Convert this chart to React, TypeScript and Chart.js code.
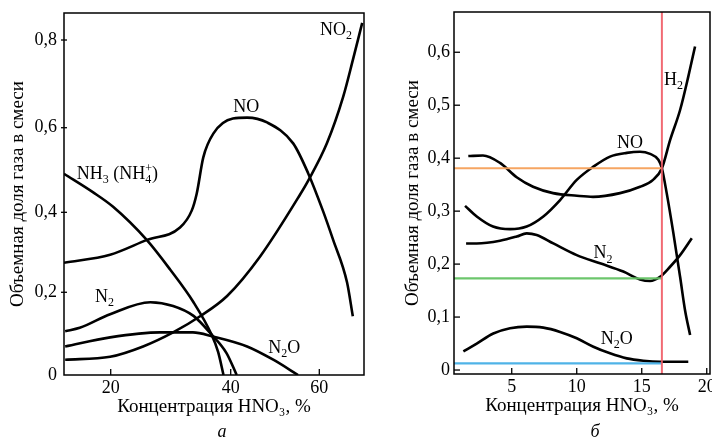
import React, { useEffect, useRef } from 'react';
import { Chart, LinearScale, registerables } from 'chart.js';

Chart.register(...registerables);

// ---------------- Panel "а" ----------------
const aXTicks = [20, 40, 60];
const aYTicks = [0, 0.2, 0.4, 0.6, 0.8];
// the printed x and y axes of panel "а" are not evenly spaced: knots read from tick marks
const aXKnotVals = [12, 20, 40, 60, 70];
const aXKnotFracs = [0, 0.1557, 0.5557, 0.851, 1];
const aYKnotVals = [0, 0.2, 0.4, 0.6, 0.8, 0.8616];
const aYKnotFracs = [0, 0.2285, 0.4494, 0.6831, 0.9254, 1];

const aNH3X = [12.0, 17.0, 20.4, 26.0, 29.9, 33.8, 36.8, 37.9, 38.8];
const aNH3Y = [0.491, 0.447, 0.413, 0.331, 0.257, 0.176, 0.098, 0.056, 0];
const aN2X = [12.2, 14.7, 19.9, 26.6, 30.4, 33.8, 36.8, 39.3, 41.35];
const aN2Y = [0.106, 0.114, 0.147, 0.176, 0.167, 0.143, 0.098, 0.053, 0];
const aN2OX = [12.2, 19.9, 28.2, 33.7, 37.05, 43.7, 49.6, 55.2];
const aN2OY = [0.069, 0.091, 0.103, 0.103, 0.093, 0.069, 0.037, 0];
const aNO2X = [12.2, 19.9, 25.4, 30.4, 34.9, 39.4, 46.6, 55.6, 57.5, 61.7, 65.3, 67.5, 69.6];
const aNO2Y = [0.037, 0.044, 0.069, 0.103, 0.142, 0.191, 0.289, 0.441, 0.475, 0.563, 0.669, 0.754, 0.839];
const aNOX = [12.0, 19.9, 26.05, 31.55, 33.5, 34.33, 35.43, 37.1, 40.5, 43.7, 48.2, 54.1, 57.5, 60.8, 63.1, 66.2, 67.5];
const aNOY = [0.274, 0.294, 0.331, 0.362, 0.404, 0.444, 0.53, 0.586, 0.621, 0.623, 0.612, 0.563, 0.492, 0.404, 0.331, 0.225, 0.142];

// curve names (with _sub and ^sup marks), left x, centre y (data units)
const aLabelText = ['NO_2', 'NO', 'NH_3 (NH_4^+)', 'N_2', 'N_2O'];
const aLabelX = [60.16, 40.59, 14.17, 17.3, 48.49];
const aLabelY = [0.823, 0.647, 0.491, 0.188, 0.065];

// ---------------- Panel "б" ----------------
const bXTicks = [5, 10, 15, 20];
const bYTicks = [0, 0.1, 0.2, 0.3, 0.4, 0.5, 0.6];

const bH2X = [1.66, 2.79, 4.1, 5.38, 6.64, 8.18, 10.02, 11.25, 13.33, 14.87, 15.87, 16.55, 17.18, 17.95, 18.58, 19.1];
const bH2Y = [0.404, 0.405, 0.391, 0.364, 0.346, 0.334, 0.329, 0.327, 0.334, 0.346, 0.359, 0.381, 0.434, 0.491, 0.554, 0.611];
const bNOX = [1.41, 2.31, 3.56, 4.87, 6.15, 7.43, 8.72, 10.0, 11.28, 12.56, 13.85, 14.87, 15.64, 16.28, 16.55, 16.92, 17.43, 17.95, 18.33, 18.72];
const bNOY = [0.31, 0.29, 0.271, 0.266, 0.271, 0.29, 0.321, 0.359, 0.384, 0.403, 0.41, 0.412, 0.408, 0.397, 0.381, 0.334, 0.259, 0.176, 0.113, 0.066];
const bN2X = [1.49, 2.31, 4.1, 5.38, 6.15, 6.92, 8.2, 10.0, 11.79, 13.58, 14.87, 15.64, 16.41, 17.18, 17.95, 18.85];
const bN2Y = [0.239, 0.239, 0.244, 0.252, 0.258, 0.255, 0.239, 0.217, 0.2015, 0.186, 0.171, 0.168, 0.176, 0.195, 0.217, 0.249];
const bN2OX = [1.28, 2.31, 3.58, 4.87, 6.15, 7.43, 8.72, 10.0, 11.28, 12.56, 13.85, 15.12, 16.41, 18.58];
const bN2OY = [0.035, 0.05, 0.069, 0.079, 0.082, 0.08, 0.072, 0.06, 0.044, 0.0315, 0.022, 0.0176, 0.0157, 0.0157];

const bRefX = 16.55; // red vertical marker
const bRefLevels = [0.381, 0.173, 0.0127]; // orange, green, blue horizontal markers
const bRefColors = ['rgba(245,160,90,0.95)', 'rgba(100,195,100,0.95)', 'rgba(70,175,230,0.95)'];

const bLabelText = ['H_2', 'NO', 'N_2', 'N_2O'];
const bLabelX = [16.72, 13.1, 11.28, 11.85];
const bLabelY = [0.548, 0.429, 0.22, 0.058];

const FONT = "'Liberation Serif', 'Times New Roman', serif";

function makePiecewise(id: string, vals: number[], fracs: number[]) {
  class PW extends LinearScale {
    static id = id;
    static defaults = LinearScale.defaults;
    getPixelForValue(value: number) {
      if (value === null || value === undefined || isNaN(value)) return NaN;
      let i = 0;
      while (i < vals.length - 2 && value > vals[i + 1]) i++;
      const t = (value - vals[i]) / (vals[i + 1] - vals[i]);
      const dec = fracs[i] + t * (fracs[i + 1] - fracs[i]);
      return (this as any).getPixelForDecimal(dec);
    }
    getValueForPixel(pixel: number) {
      const dec = (this as any).getDecimalForPixel(pixel);
      let i = 0;
      while (i < fracs.length - 2 && dec > fracs[i + 1]) i++;
      const t = (dec - fracs[i]) / (fracs[i + 1] - fracs[i]);
      return vals[i] + t * (vals[i + 1] - vals[i]);
    }
  }
  return PW;
}

Chart.register(makePiecewise('pwAX', aXKnotVals, aXKnotFracs) as any, makePiecewise('pwAY', aYKnotVals, aYKnotFracs) as any);

const zip = (xs: number[], ys: number[]) => xs.map((x, i) => ({ x, y: ys[i] }));

function drawRich(ctx: CanvasRenderingContext2D, x: number, y: number, spec: string) {
  ctx.textBaseline = 'middle';
  ctx.textAlign = 'left';
  let cx = x;
  let i = 0;
  while (i < spec.length) {
    const ch = spec[i];
    if (ch === '_') {
      const sub = spec[i + 1];
      let sup = '';
      i += 2;
      if (spec[i] === '^') { sup = spec[i + 1]; i += 2; }
      ctx.font = `12px ${FONT}`;
      ctx.fillText(sub, cx, y + 6);
      let w = ctx.measureText(sub).width;
      if (sup) {
        ctx.fillText(sup, cx, y - 5);
        w = Math.max(w, ctx.measureText(sup).width);
      }
      cx += w;
    } else {
      let j = i;
      let s = '';
      while (j < spec.length && spec[j] !== '_') { s += spec[j]; j++; }
      ctx.font = `18px ${FONT}`;
      ctx.fillText(s, cx, y);
      cx += ctx.measureText(s).width;
      i = j;
    }
  }
}

function decor(texts: string[], lx: number[], ly: number[], caption: string, capX: number, yTickOut: number, yTickIn: number) {
  return {
    id: 'decor',
    afterDatasetsDraw(chart: any) {
      const ctx = chart.ctx as CanvasRenderingContext2D;
      const { left, right, top, bottom } = chart.chartArea;
      const xs = chart.scales.x;
      const ys = chart.scales.y;
      ctx.save();
      ctx.strokeStyle = '#000';
      ctx.fillStyle = '#000';
      ctx.lineWidth = 1.5;
      ctx.strokeRect(left, top, right - left, bottom - top);
      ctx.lineWidth = 1.3;
      xs.ticks.forEach((t: any) => {
        const px = xs.getPixelForValue(t.value);
        if (px <= left + 1 || px >= right - 1) return;
        ctx.beginPath();
        ctx.moveTo(px, bottom);
        ctx.lineTo(px, bottom - 6);
        ctx.stroke();
      });
      ys.ticks.forEach((t: any) => {
        const py = ys.getPixelForValue(t.value);
        if (py <= top + 1 || py >= bottom - 1) return;
        ctx.beginPath();
        ctx.moveTo(left - yTickOut, py);
        ctx.lineTo(left + yTickIn, py);
        ctx.stroke();
      });
      texts.forEach((s, i) => {
        drawRich(ctx, xs.getPixelForValue(lx[i]), ys.getPixelForValue(ly[i]), s);
      });
      ctx.font = `italic 18px ${FONT}`;
      ctx.textAlign = 'center';
      ctx.textBaseline = 'middle';
      ctx.fillText(caption, capX, 432);
      ctx.restore();
    },
  };
}

const fmt = (v: number) => (v === 0 ? '0' : v.toFixed(1).replace('.', ','));

function baseScales(xType: string, xMin: number, xMax: number, xTicks: number[], yType: string, yMin: number, yMax: number, yTicks: number[], yWidth: number, yPad: number) {
  const font = { family: FONT, size: 18 };
  const tfont = { family: FONT, size: 19 };
  return {
    x: {
      type: xType,
      min: xMin,
      max: xMax,
      grid: { display: false, drawTicks: false },
      border: { display: false },
      afterBuildTicks: (s: any) => { s.ticks = xTicks.map((v) => ({ value: v })); },
      afterFit: (s: any) => { s.height = 43; s.paddingLeft = 0; s.paddingRight = 0; },
      ticks: { padding: 2, autoSkip: false, maxRotation: 0, minRotation: 0, color: '#000', font, callback: (v: any) => String(v) },
      title: { display: true, text: 'Концентрация HNO₃, %', color: '#000', font: tfont, padding: { top: 0, bottom: 0 } },
    },
    y: {
      type: yType,
      min: yMin,
      max: yMax,
      grid: { display: false, drawTicks: false },
      border: { display: false },
      afterBuildTicks: (s: any) => { s.ticks = yTicks.map((v) => ({ value: v })); },
      afterFit: (s: any) => { s.width = yWidth; s.paddingTop = 0; s.paddingBottom = 0; },
      ticks: { padding: yPad, autoSkip: false, color: '#000', font, callback: (v: any) => fmt(Number(v)) },
      title: { display: true, text: 'Объемная доля газа в смеси', color: '#000', font: tfont, padding: { top: 6.6, bottom: 0 } },
    },
  };
}

const curve = (data: any[]) => ({
  data,
  borderColor: '#000',
  borderWidth: 2.6,
  pointRadius: 0,
  cubicInterpolationMode: 'monotone',
  fill: false,
});

const straight = (data: any[], color: string, width: number) => ({
  data,
  borderColor: color,
  borderWidth: width,
  pointRadius: 0,
  tension: 0,
  fill: false,
});

export default function App() {
  const refA = useRef<HTMLCanvasElement>(null);
  const refB = useRef<HTMLCanvasElement>(null);

  useEffect(() => {
    const common = {
      responsive: false,
      animation: false,
      devicePixelRatio: 1,
      events: [],
      plugins: { legend: { display: false }, tooltip: { enabled: false } },
    };
    const chartA = new Chart(refA.current as HTMLCanvasElement, {
      type: 'line',
      data: {
        datasets: [
          curve(zip(aNH3X, aNH3Y)),
          curve(zip(aN2X, aN2Y)),
          curve(zip(aN2OX, aN2OY)),
          curve(zip(aNO2X, aNO2Y)),
          curve(zip(aNOX, aNOY)),
        ],
      },
      options: {
        ...common,
        layout: { padding: { left: 0, right: 348, top: 13, bottom: 28 } },
        scales: baseScales('pwAX', 12, 70, aXTicks, 'pwAY', 0, 0.8616, aYTicks, 64, 7) as any,
      } as any,
      plugins: [decor(aLabelText, aLabelX, aLabelY, 'а', 222, 3, 3)],
    } as any);

    const yMinB = -0.0075;
    const yMaxB = 0.676;
    const xMinB = 0.56;
    const xMaxB = 20.25;
    const chartB = new Chart(refB.current as HTMLCanvasElement, {
      type: 'line',
      data: {
        datasets: [
          straight([{ x: bRefX, y: yMinB }, { x: bRefX, y: yMaxB }], 'rgba(240,90,100,0.9)', 2),
          ...bRefLevels.map((lv, i) => straight([{ x: xMinB, y: lv }, { x: bRefX, y: lv }], bRefColors[i], 2.2)),
          curve(zip(bH2X, bH2Y)),
          curve(zip(bNOX, bNOY)),
          curve(zip(bN2X, bN2Y)),
          curve(zip(bN2OX, bN2OY)),
        ],
      },
      options: {
        ...common,
        layout: { padding: { left: 395, right: 2, top: 12, bottom: 29 } },
        scales: baseScales('linear', xMinB, xMaxB, bXTicks, 'linear', yMinB, yMaxB, bYTicks, 59, 4) as any,
      } as any,
      plugins: [decor(bLabelText, bLabelX, bLabelY, 'б', 595, 0, 6)],
    } as any);

    return () => {
      chartA.destroy();
      chartB.destroy();
    };
  }, []);

  return (
    <div style={{ position: 'fixed', left: 0, top: 0, width: 712, height: 446, background: '#fff' }}>
      <canvas ref={refA} width={712} height={446} style={{ position: 'absolute', left: 0, top: 0 }} />
      <canvas ref={refB} width={712} height={446} style={{ position: 'absolute', left: 0, top: 0 }} />
    </div>
  );
}
